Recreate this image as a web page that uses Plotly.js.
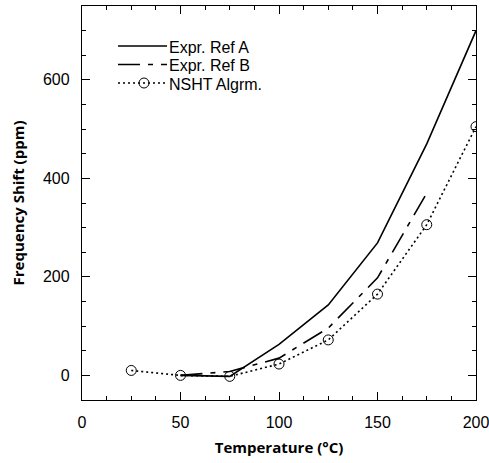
<!DOCTYPE html>
<html>
<head>
<meta charset="utf-8">
<script src="https://cdn.plot.ly/plotly-3.0.1.min.js"></script>
<style>html,body{margin:0;padding:0;background:#fff;}#chart{width:489px;height:463px;}</style>
</head>
<body>
<div id="chart"></div>
<script>
const refA_T = [50, 75, 100, 125, 150, 175, 200];
const refA_Y = [0, -2, 63, 143, 269, 470, 700];
const refB_T = [50, 75, 100, 125, 150, 175];
const refB_Y = [0, 8, 35, 96, 198, 370];
const nsht_T = [25, 50, 75, 100, 125, 150, 175, 200];
const nsht_Y = [10, 0, -2, 23, 72, 165, 306, 505];
const seriesNames = ['Expr. Ref A', 'Expr. Ref B', 'NSHT Algrm.'];
const xTicks = [0, 50, 100, 150, 200];
const yTicks = [0, 200, 400, 600];

const W = 489, H = 463;
const M = {l: 82, r: 13, t: 6, b: 63};
const PW = W - M.l - M.r, PH = H - M.t - M.b;
const px2x = p => (p - M.l) / PW;
const py2y = p => (H - M.b - p) / PH;

const styles = [
  {color: '#000', width: 1.6, dash: 'solid'},
  {color: '#000', width: 1.6, dash: '22px,8px,5px,8px'},
  {color: '#000', width: 1.6, dash: '2px,3px'}
];
const mk = {symbol: 'circle-open', size: 10, color: '#000', line: {width: 1, color: '#000'}};

const traces = [
  {x: refA_T, y: refA_Y, name: seriesNames[0], mode: 'lines', line: styles[0]},
  {x: refB_T, y: refB_Y, name: seriesNames[1], mode: 'lines', line: styles[1]},
  {x: nsht_T, y: nsht_Y, name: seriesNames[2], mode: 'lines+markers', line: styles[2], marker: mk}
];

// legend drawn as shapes + annotations (in paper coords)
const legRows = [46, 64.5, 83];
const shapes = [], annotations = [];
seriesNames.forEach((nm, i) => {
  shapes.push({type: 'line', xref: 'paper', yref: 'paper',
    x0: px2x(118), x1: px2x(167), y0: py2y(legRows[i]), y1: py2y(legRows[i]),
    line: {color: '#000', width: 1.6, dash: styles[i].dash}});
  annotations.push({xref: 'paper', yref: 'paper', x: px2x(168), y: py2y(legRows[i] + 1),
    xanchor: 'left', yanchor: 'middle', showarrow: false, text: nm, borderpad: 0,
    font: {family: 'Liberation Sans, Arial, sans-serif', size: 16, color: '#000'}});
});
shapes.push({type: 'circle', xref: 'paper', yref: 'paper', xsizemode: 'pixel', ysizemode: 'pixel',
  xanchor: px2x(144), yanchor: py2y(legRows[2]), x0: -5, x1: 5, y0: -5, y1: 5,
  line: {color: '#000', width: 1}, fillcolor: 'rgba(0,0,0,0)'});

const axisCommon = {
  showgrid: false, zeroline: false, showline: true, linecolor: '#000', linewidth: 1.2,
  mirror: 'allticks', ticks: 'inside', ticklen: 8, tickwidth: 1, tickcolor: '#000',
  ticklabelstandoff: 8, ticklabeloverflow: 'allow',
  tickfont: {family: 'Liberation Sans, Arial, sans-serif', size: 16, color: '#000'}
};

const layout = {
  width: W, height: H,
  margin: M,
  paper_bgcolor: '#fff', plot_bgcolor: '#fff',
  showlegend: false,
  shapes: shapes, annotations: annotations,
  xaxis: Object.assign({}, axisCommon, {
    range: [0, 200], tickvals: xTicks,
    minor: {dtick: 12.5, tick0: 0, ticks: 'inside', ticklen: 4, tickcolor: '#000', showgrid: false},
    title: {text: 'Temperature (°C)', standoff: 12,
            font: {family: 'Open Sans, sans-serif', size: 15, color: '#000', weight: 'bold'}}
  }),
  yaxis: Object.assign({}, axisCommon, {
    range: [-50, 750], tickvals: yTicks,
    minor: {dtick: 50, tick0: 0, ticks: 'inside', ticklen: 4, tickcolor: '#000', showgrid: false},
    title: {text: 'Frequency Shift (ppm)', standoff: 14,
            font: {family: 'Open Sans, sans-serif', size: 15, color: '#000', weight: 'bold'}}
  })
};

Plotly.newPlot('chart', traces, layout, {staticPlot: true, displayModeBar: false});
</script>
</body>
</html>
